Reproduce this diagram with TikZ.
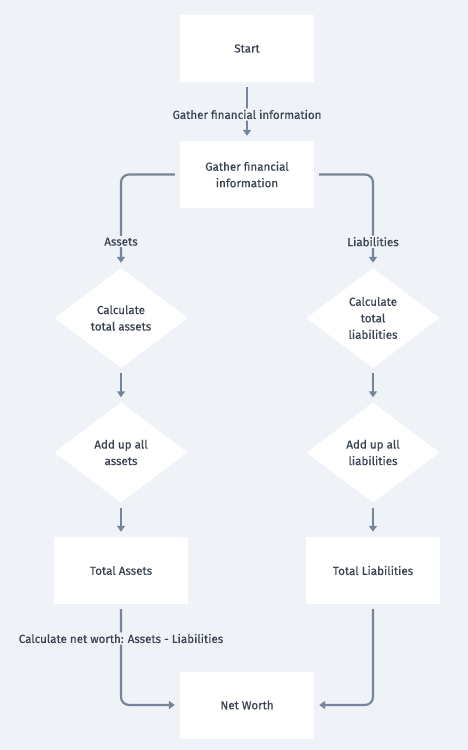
\documentclass[tikz,border=0pt]{standalone}
\usepackage{fontspec}
\setmainfont{Fira Sans}[FakeBold=0.5]
\usetikzlibrary{shapes.geometric,arrows.meta}
\definecolor{bg}{HTML}{EFF3F7}
\definecolor{ln}{HTML}{76869A}
\definecolor{tx}{HTML}{3A4352}
\begin{document}
\begin{tikzpicture}[x=1pt,y=-1pt,
  every node/.style={font=\fontsize{11.6}{16.5}\selectfont, text=tx},
  box/.style={draw=none, fill=white, minimum width=134pt, minimum height=67pt, align=center, inner sep=2pt},
  dia/.style={diamond, draw=none, fill=white, minimum width=133pt, minimum height=100pt, inner sep=0pt, align=center},
  lbl/.style={fill=bg, inner sep=1.5pt, align=center},
  conn/.style={draw=ln, line width=2.2pt, -{Triangle[length=6pt,width=8pt]}, shorten <=5pt, shorten >=5pt, rounded corners=8pt}
]
\fill[bg] (0,0) rectangle (468,750);
\useasboundingbox (0,0) rectangle (468,750);

\node[box] (start) at (247,48.5) {Start};
\node[box] (gather) at (247,174.5) {Gather financial\\information};
\node[dia] (ca) at (121,318) {Calculate\\total assets};
\node[dia] (cl) at (373,318) {Calculate\\total\\liabilities};
\node[dia] (aa) at (121,452.5) {Add up all\\assets};
\node[dia] (al) at (373,452.5) {Add up all\\liabilities};
\node[box] (ta) at (121,570.5) {Total Assets};
\node[box] (tl) at (373,570.5) {Total Liabilities};
\node[box] (nw) at (247,705) {Net Worth};

\draw[conn] (start) -- node[lbl, pos=0.55] {Gather financial information} (gather);
\draw[conn] (gather.west) -| node[lbl, pos=0.86] {Assets} (ca.north);
\draw[conn] (gather.east) -| node[lbl, pos=0.86] {Liabilities} (cl.north);
\draw[conn] (ca) -- (aa);
\draw[conn] (cl) -- (al);
\draw[conn] (aa) -- (ta);
\draw[conn] (al) -- (tl);
\draw[conn] (ta.south) |- node[lbl, pos=0.17] {Calculate net worth: Assets - Liabilities} (nw.west);
\draw[conn] (tl.south) |- (nw.east);
\end{tikzpicture}
\end{document}
